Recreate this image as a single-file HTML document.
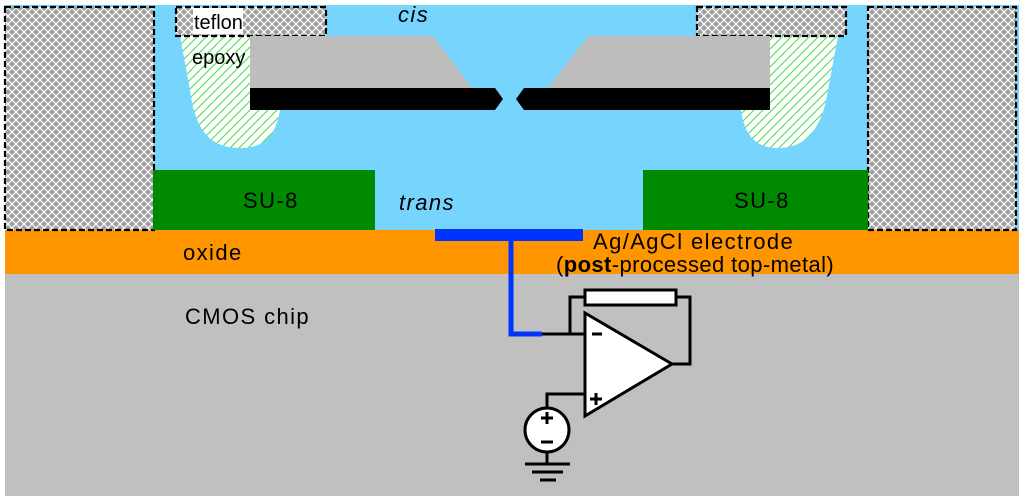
<!DOCTYPE html>
<html><head><meta charset="utf-8"><style>body{margin:0;background:#fff}svg{display:block}text{font-family:"Liberation Sans",sans-serif;font-size:22px;fill:#000;letter-spacing:1.4px}</style></head><body>
<svg width="1024" height="504" viewBox="0 0 1024 504" xmlns="http://www.w3.org/2000/svg">
<defs>
<pattern id="x" width="8" height="8" patternUnits="userSpaceOnUse"><rect width="8" height="8" fill="#a0a0a0"/><path d="M0 0L8 8M8 0L0 8" stroke="#fff" stroke-width="1.2"/></pattern>
<pattern id="h" width="9" height="9" patternUnits="userSpaceOnUse"><rect width="9" height="9" fill="#fff"/><path d="M0 9L9 0M-2 2L2 -2M7 11L11 7" stroke="#44dd44" stroke-width="1"/></pattern>
</defs>
<rect x="5" y="5" width="1014" height="225" fill="#77d4fd"/>
<rect x="5" y="230" width="1014" height="44" fill="#ff9600"/>
<rect x="5" y="274" width="1014" height="222" fill="#c0c0c0"/>
<path d="M180 36 L250 36 L250 110 L280 110 C275 140 260 148 240 148 C210 148 195 130 190 90 Z" fill="url(#h)"/>
<path d="M838 36 L770 36 L770 110 L741 110 C745 140 760 148 778 148 C805 148 822 130 828 90 Z" fill="url(#h)"/>
<g stroke="#000" stroke-width="2.2" stroke-dasharray="6,3">
<rect x="5" y="7" width="149" height="223" fill="url(#x)"/>
<rect x="868" y="7" width="148" height="223" fill="url(#x)"/>
<rect x="176" y="7" width="150" height="29" fill="url(#x)"/>
<rect x="697" y="7" width="149" height="29" fill="url(#x)"/>
</g>
<rect x="193" y="8" width="50" height="26" fill="#fff"/>
<text x="194" y="29" style="font-size:20px;letter-spacing:0">teflon</text>
<text x="192" y="64" style="font-size:20px;letter-spacing:0">epoxy</text>
<text x="398" y="22" font-style="italic">cis</text>
<polygon points="250,36 433,36 472,88 250,88" fill="#bdbdbd"/>
<polygon points="770,36 588,36 548,88 770,88" fill="#bdbdbd"/>
<polygon points="250,88 495,88 503,99 495,110 250,110" fill="#000"/>
<polygon points="770,88 524,88 516,99 524,110 770,110" fill="#000"/>
<rect x="153" y="170" width="222" height="60" fill="#008a00"/>
<rect x="643" y="170" width="225" height="60" fill="#008a00"/>
<text x="243" y="208">SU-8</text>
<text x="734" y="208">SU-8</text>
<text x="399" y="210" font-style="italic">trans</text>
<text x="183" y="260">oxide</text>
<text x="593" y="249">Ag/AgCl electrode</text>
<text x="556" y="272" style="letter-spacing:0.4px">(<tspan font-weight="bold">post</tspan>-processed top-metal)</text>
<text x="185" y="324">CMOS chip</text>
<rect x="435" y="229" width="148" height="12" fill="#0033ff"/>
<path d="M511 241 V334 H542" stroke="#0033ff" stroke-width="5" fill="none"/>
<g stroke="#000" stroke-width="3" fill="none">
<path d="M542 334 H585 M570 334 V297 H585 M676 297 H690 V364 H672 M585 394 H547 V408 M547 452 V463"/>
<rect x="585" y="290" width="91" height="15" fill="#fff"/>
<polygon points="585,313 672,364 585,416" fill="#fff"/>
<circle cx="547" cy="430" r="22" fill="#fff"/>
<path d="M525 464 H570 M532 472 H563 M540 480 H556"/>
<path d="M592 334 H602 M590 399 H602 M596 393 V405 M541 418 H553 M547 412 V424 M541 442 H553"/>
</g>
</svg>
</body></html>
